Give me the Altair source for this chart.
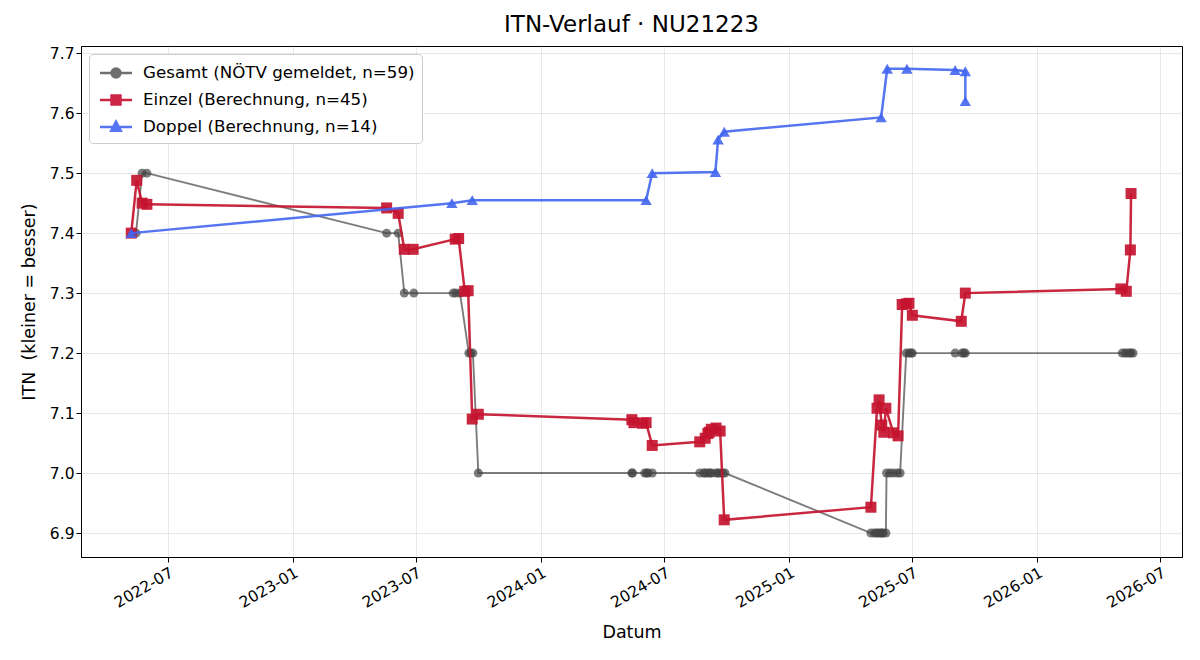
import altair as alt
import pandas as pd

# Series labels, colours and marker shapes
labels = [
    "Gesamt (NÖTV gemeldet, n=59)",
    "Einzel (Berechnung, n=45)",
    "Doppel (Berechnung, n=14)",
]
colors = ["#444444", "#c4142f", "#4466f0"]
opacities = [0.7, 0.92, 0.9]
legend_colors = ["#6e6e6e", "#cb2744", "#5575f2"]
shapes = ["circle", "square", "triangle-up"]
marker_sizes = [81, 121, 130]
line_widths = [1.9, 2.5, 2.5]

# Reported overall ITN
gesamt_dates = [
    "2022-05-15", "2022-05-24", "2022-05-31",
    "2023-05-19", "2023-06-05", "2023-06-14", "2023-06-28",
    "2023-08-25", "2023-08-29", "2023-09-04",
    "2023-09-17", "2023-09-20", "2023-09-23", "2023-10-01",
    "2024-05-14", "2024-05-15", "2024-06-02", "2024-06-05", "2024-06-07", "2024-06-13",
    "2024-08-22", "2024-08-28", "2024-08-30", "2024-09-03", "2024-09-06", "2024-09-08",
    "2024-09-15", "2024-09-18", "2024-09-21", "2024-09-25", "2024-09-28",
    "2025-05-01", "2025-05-06", "2025-05-09", "2025-05-12", "2025-05-15", "2025-05-17",
    "2025-05-19", "2025-05-23",
    "2025-05-24", "2025-05-29", "2025-06-03", "2025-06-09", "2025-06-13",
    "2025-06-22", "2025-06-26", "2025-06-29", "2025-07-01",
    "2025-09-02", "2025-09-12", "2025-09-15", "2025-09-17",
    "2026-05-06", "2026-05-10", "2026-05-13", "2026-05-17", "2026-05-19", "2026-05-22",
]
gesamt_itn = [
    7.4, 7.5, 7.5,
    7.4, 7.4, 7.3, 7.3,
    7.3, 7.3, 7.3,
    7.2, 7.2, 7.2, 7.0,
    7.0, 7.0, 7.0, 7.0, 7.0, 7.0,
    7.0, 7.0, 7.0, 7.0, 7.0, 7.0,
    7.0, 7.0, 7.0, 7.0, 7.0,
    6.9, 6.9, 6.9, 6.9, 6.9, 6.9,
    6.9, 6.9,
    7.0, 7.0, 7.0, 7.0, 7.0,
    7.2, 7.2, 7.2, 7.2,
    7.2, 7.2, 7.2, 7.2,
    7.2, 7.2, 7.2, 7.2, 7.2, 7.2,
]

# Calculated singles ITN
einzel_dates = [
    "2022-05-08", "2022-05-16", "2022-05-24", "2022-05-31",
    "2023-05-19", "2023-06-05", "2023-06-14", "2023-06-27",
    "2023-08-28", "2023-09-02", "2023-09-11", "2023-09-16",
    "2023-09-22", "2023-10-01",
    "2024-05-14", "2024-05-17", "2024-05-30", "2024-06-04", "2024-06-13",
    "2024-08-22", "2024-08-30", "2024-09-03", "2024-09-05", "2024-09-08",
    "2024-09-15", "2024-09-21", "2024-09-27",
    "2025-05-01", "2025-05-10", "2025-05-13", "2025-05-17", "2025-05-20",
    "2025-05-23", "2025-06-03", "2025-06-10",
    "2025-06-16", "2025-06-22", "2025-06-26", "2025-07-01",
    "2025-09-11", "2025-09-17",
    "2026-05-04", "2026-05-12", "2026-05-18", "2026-05-19",
]
einzel_itn = [
    7.400, 7.488, 7.450, 7.448,
    7.442, 7.433, 7.373, 7.373,
    7.390, 7.391, 7.303, 7.304,
    7.090, 7.098,
    7.089, 7.084, 7.083, 7.084, 7.046,
    7.052, 7.058, 7.066, 7.068, 7.073,
    7.075, 7.070, 6.922,
    6.943, 7.108, 7.122, 7.080, 7.068,
    7.108, 7.067, 7.062,
    7.281, 7.282, 7.283, 7.263,
    7.253, 7.300,
    7.307, 7.303, 7.372, 7.466,
]

# Calculated doubles ITN
doppel_dates = [
    "2022-05-08", "2023-08-23", "2023-09-22", "2024-06-04", "2024-06-13",
    "2024-09-14", "2024-09-18", "2024-09-27", "2025-05-16", "2025-05-25",
    "2025-06-23", "2025-09-02", "2025-09-17", "2025-09-17",
]
doppel_itn = [
    7.400, 7.450, 7.455, 7.455, 7.500,
    7.502, 7.556, 7.569, 7.593, 7.674,
    7.674, 7.672, 7.670, 7.620,
]

x_ticks = ["2022-07", "2023-01", "2023-07", "2024-01", "2024-07",
           "2025-01", "2025-07", "2026-01", "2026-07"]
y_ticks = [6.9, 7.0, 7.1, 7.2, 7.3, 7.4, 7.5, 7.6, 7.7]

rows = []
for lab, ds, vs in zip(labels, [gesamt_dates, einzel_dates, doppel_dates],
                       [gesamt_itn, einzel_itn, doppel_itn]):
    for i, (d, v) in enumerate(zip(ds, vs)):
        rows.append({"serie": lab, "datum": d, "itn": v, "idx": i})
df = pd.DataFrame(rows)


def utc_date(s, day=1):
    y, m = s.split("-")[:2]
    return alt.DateTime(year=int(y), month=int(m), date=day, utc=True)


x_enc = alt.X(
    "datum:T",
    title="Datum",
    scale=alt.Scale(type="utc",
                    domain=[utc_date("2022-02", 23), utc_date("2026-08", 2)]),
    axis=alt.Axis(values=[utc_date(t) for t in x_ticks], format="%Y-%m",
                  labelAngle=-30, labelAlign="right", labelBaseline="top",
                  labelPadding=3, titlePadding=13),
)
y_enc = alt.Y(
    "itn:Q",
    title="ITN\u00a0\u00a0(kleiner = besser)",
    scale=alt.Scale(domain=[6.86, 7.712], nice=False, zero=False),
    axis=alt.Axis(values=y_ticks, format=".1f", titlePadding=11),
)

layers = []
for lab, col, op, shp, msz, lw in zip(labels, colors, opacities, shapes,
                                      marker_sizes, line_widths):
    base = alt.Chart(df).transform_filter(alt.datum.serie == lab)
    layers.append(
        base.mark_line(color=col, opacity=op, strokeWidth=lw).encode(
            x=x_enc, y=y_enc, order=alt.Order("idx:Q"))
    )
    layers.append(
        base.mark_point(shape=shp, filled=True, color=col, opacity=op,
                        size=msz, strokeWidth=0).encode(x=x_enc, y=y_enc)
    )

# Legend symbols: a short line segment with the series marker on it
legend_paths = [
    "M-1.5,0H1.5M-0.42,0A0.42,0.42,0,1,0,0.42,0A0.42,0.42,0,1,0,-0.42,0Z",
    "M-1.5,0H1.5M-0.42,-0.42H0.42V0.42H-0.42Z",
    "M-1.5,0H1.5M0,-0.5L0.45,0.35H-0.45Z",
]
legend_layer = alt.Chart(df).transform_filter("false").mark_point(
    filled=True, strokeWidth=2.5, opacity=1
).encode(
    x=x_enc,
    y=y_enc,
    fill=alt.Fill("serie:N", scale=alt.Scale(domain=labels, range=legend_colors),
                  legend=alt.Legend(title=None)),
    stroke=alt.Stroke("serie:N", scale=alt.Scale(domain=labels, range=legend_colors),
                      legend=alt.Legend(title=None)),
    shape=alt.Shape("serie:N", scale=alt.Scale(domain=labels, range=legend_paths),
                    legend=alt.Legend(title=None)),
)
layers.append(legend_layer)

chart = alt.layer(*layers).properties(
    width=1101,
    height=511,
    padding={"left": 81, "top": 46, "right": 18, "bottom": 103},
    autosize=alt.AutoSizeParams(type="none"),
    title=alt.TitleParams("ITN-Verlauf · NU21223", font="DejaVu Sans",
                          fontSize=23, fontWeight="normal", color="black",
                          anchor="middle", offset=9),
).configure_view(
    stroke="black", strokeWidth=1
).configure_axis(
    labelFont="DejaVu Sans", titleFont="DejaVu Sans",
    labelFontSize=15.5, titleFontSize=17.5, titleFontWeight="normal",
    labelColor="black", titleColor="black",
    domainColor="black", domainWidth=1, tickColor="black", tickSize=5,
    tickWidth=1, gridColor="#b0b0b0", gridOpacity=0.35, gridWidth=0.8,
).configure_legend(
    orient="top-left", offset=8, fillColor="white", strokeColor="#cccccc",
    cornerRadius=4, padding=7, labelFont="DejaVu Sans", labelFontSize=16.7,
    labelColor="black", labelLimit=0, symbolSize=455, symbolStrokeWidth=2.5,
    symbolOpacity=1, symbolOffset=8, labelOffset=15, rowPadding=5,
)

chart.save("out.html", embed_options={"renderer": "svg", "actions": False})
